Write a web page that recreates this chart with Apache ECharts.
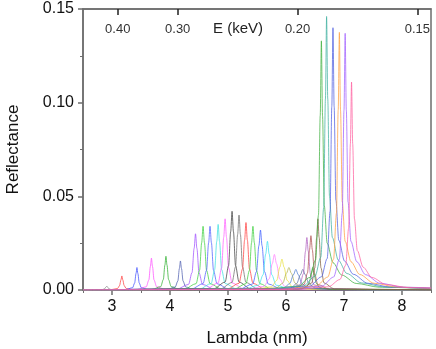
<!DOCTYPE html>
<html>
<head>
<meta charset="utf-8">
<script src="https://cdn.jsdelivr.net/npm/echarts@6/dist/echarts.min.js"></script>
<style>
html,body{margin:0;padding:0;background:#fff;}
#chart{width:436px;height:349px;}
</style>
</head>
<body>
<div id="chart"></div>
<script>
// axis ranges and tick labels
var xMin = 2.5, xMax = 8.5;
var xLabels = [3, 4, 5, 6, 7, 8];
var xMinorTicks = [2.5, 3.5, 4.5, 5.5, 6.5, 7.5, 8.5];
var yTicks = [0, 0.05, 0.10, 0.15];
var eTicks = [0.40, 0.30, 0.20, 0.15];   // keV, top axis

// short wavelength orders (narrow, small)
var lowOrder = [
	[[2.5,0],[2.71,0],[2.835,0.0002],[2.87,0.0006],[2.895,0.0015],[2.91,0.002],[2.925,0.0015],[2.95,0.0006],[2.985,0.0002],[3.11,0],[8.5,0]],
	[[2.5,0],[2.97,0.0001],[3.095,0.0008],[3.13,0.0023],[3.155,0.0055],[3.17,0.0075],[3.185,0.0055],[3.21,0.0023],[3.245,0.0008],[3.37,0.0001],[8.5,0]],
	[[2.5,0],[3.23,0.0002],[3.355,0.0012],[3.39,0.0037],[3.415,0.0089],[3.43,0.012],[3.445,0.0089],[3.47,0.0037],[3.505,0.0012],[3.63,0.0002],[8.5,0]],
	[[2.5,0],[3.44,0.0003],[3.59,0.0017],[3.635,0.0053],[3.662,0.0126],[3.68,0.017],[3.698,0.0126],[3.725,0.0053],[3.77,0.0017],[3.92,0.0003],[8.5,0]],
	[[2.5,0],[3.69,0.0003],[3.84,0.0018],[3.885,0.0056],[3.912,0.0133],[3.93,0.018],[3.948,0.0133],[3.975,0.0056],[4.02,0.0018],[4.17,0.0003],[8.5,0]],
	[[2.5,0],[3.94,0.0002],[4.09,0.0016],[4.135,0.0048],[4.162,0.0115],[4.18,0.0155],[4.198,0.0115],[4.225,0.0048],[4.27,0.0016],[4.42,0.0002],[8.5,0]]
];
var lowColors = ['#808080','#ff4040','#4050ff','#ff50ff','#30b030','#5060b0'];

// middle band around 4.4 - 5.6 nm
var midOrder = [
	[[2.5,0],[4.12,0.0005],[4.32,0.003],[4.38,0.0093],[4.416,0.0222],[4.44,0.030],[4.464,0.0222],[4.50,0.0093],[4.56,0.003],[4.76,0.0005],[8.5,0]],
	[[2.5,0],[4.25,0.0005],[4.45,0.0034],[4.51,0.0105],[4.546,0.0252],[4.57,0.034],[4.594,0.0252],[4.63,0.0105],[4.69,0.0034],[4.89,0.0005],[8.5,0]],
	[[2.5,0],[4.37,0.0005],[4.57,0.0034],[4.63,0.0105],[4.666,0.0252],[4.69,0.034],[4.714,0.0252],[4.75,0.0105],[4.81,0.0034],[5.01,0.0005],[8.5,0]],
	[[2.5,0],[4.51,0.0005],[4.71,0.0035],[4.77,0.0109],[4.806,0.0259],[4.83,0.035],[4.854,0.0259],[4.89,0.0109],[4.95,0.0035],[5.15,0.0005],[8.5,0]],
	[[2.5,0],[4.63,0.0006],[4.83,0.0038],[4.89,0.0118],[4.926,0.0281],[4.95,0.038],[4.974,0.0281],[5.01,0.0118],[5.07,0.0038],[5.27,0.0006],[8.5,0]],
	[[2.5,0],[4.75,0.0006],[4.95,0.0042],[5.01,0.013],[5.046,0.0311],[5.07,0.042],[5.094,0.0311],[5.13,0.013],[5.19,0.0042],[5.39,0.0006],[8.5,0]],
	[[2.5,0],[4.87,0.0006],[5.07,0.004],[5.13,0.0124],[5.166,0.0296],[5.19,0.040],[5.214,0.0296],[5.25,0.0124],[5.31,0.004],[5.51,0.0006],[8.5,0]],
	[[2.5,0],[4.99,0.0005],[5.19,0.0036],[5.25,0.0112],[5.286,0.0266],[5.31,0.036],[5.334,0.0266],[5.37,0.0112],[5.43,0.0036],[5.63,0.0005],[8.5,0]],
	[[2.5,0],[5.11,0.0005],[5.31,0.0034],[5.37,0.0105],[5.406,0.0252],[5.43,0.034],[5.454,0.0252],[5.49,0.0105],[5.55,0.0034],[5.75,0.0005],[8.5,0]],
	[[2.5,0],[5.20,0.0005],[5.425,0.0032],[5.492,0.0099],[5.533,0.0237],[5.56,0.032],[5.587,0.0237],[5.628,0.0099],[5.695,0.0032],[5.92,0.0005],[8.5,0]]
];
var midColors = ['#a050ff','#40d040','#5060ff','#40e0e0','#ff60ff','#404040','#707070','#ff4040','#40d040','#4060ff'];

// broad low peaks 5.7 - 6.3 nm
var broadOrder = [
	[[2.5,0],[5.28,0.0004],[5.53,0.0026],[5.605,0.0081],[5.65,0.0192],[5.68,0.026],[5.71,0.0192],[5.755,0.0081],[5.83,0.0026],[6.08,0.0004],[8.5,0]],
	[[2.5,0],[5.32,0.0003],[5.62,0.0019],[5.71,0.0059],[5.764,0.0141],[5.80,0.019],[5.836,0.0141],[5.89,0.0059],[5.98,0.0019],[6.28,0.0003],[8.5,0]],
	[[2.5,0],[5.45,0.0003],[5.75,0.0017],[5.84,0.0051],[5.894,0.0122],[5.93,0.0165],[5.966,0.0122],[6.02,0.0051],[6.11,0.0017],[6.41,0.0003],[8.5,0]],
	[[2.5,0],[5.49,0.0002],[5.84,0.0012],[5.945,0.0037],[6.008,0.0089],[6.05,0.012],[6.092,0.0089],[6.155,0.0037],[6.26,0.0012],[6.61,0.0002],[8.5,0]],
	[[2.5,0],[5.61,0.0002],[5.96,0.0011],[6.065,0.0034],[6.128,0.0081],[6.17,0.011],[6.212,0.0081],[6.275,0.0034],[6.38,0.0011],[6.73,0.0002],[8.5,0]],
	[[2.5,0],[5.73,0.0002],[6.08,0.0011],[6.185,0.0034],[6.248,0.0081],[6.29,0.011],[6.332,0.0081],[6.395,0.0034],[6.50,0.0011],[6.85,0.0002],[8.5,0]]
];
var broadColors = ['#40e0f0','#ff80ff','#e8e040','#b0b050','#5080d0','#6070a0'];

// small cluster just before the edge
var clusterOrder = [
	[[2.5,0],[6.04,0.0004],[6.24,0.0028],[6.30,0.0087],[6.336,0.0207],[6.36,0.028],[6.384,0.0207],[6.42,0.0087],[6.48,0.0028],[6.68,0.0004],[8.5,0]],
	[[2.5,0],[6.11,0.0004],[6.31,0.0029],[6.37,0.009],[6.406,0.0215],[6.43,0.029],[6.454,0.0215],[6.49,0.009],[6.55,0.0029],[6.75,0.0004],[8.5,0]],
	[[2.5,0],[6.14,0.0002],[6.34,0.0012],[6.40,0.0037],[6.436,0.0089],[6.46,0.012],[6.484,0.0089],[6.52,0.0037],[6.58,0.0012],[6.78,0.0002],[8.5,0]],
	[[2.5,0],[6.27,0.0006],[6.445,0.0038],[6.497,0.0118],[6.529,0.0281],[6.55,0.038],[6.571,0.0281],[6.603,0.0118],[6.655,0.0038],[6.83,0.0006],[8.5,0]]
];
var clusterColors = ['#b060c0','#b05050','#40a040','#806040'];

// tall peaks 6.6 - 7.1 nm with long tails
var tallOrder = [
	[[2.5,0],[5.61,0.0004],[6.21,0.002],[6.41,0.0067],[6.51,0.016],[6.56,0.040],[6.59,0.093],[6.61,0.133],[6.63,0.093],[6.66,0.045],[6.71,0.025],[6.81,0.0146],[6.96,0.008],[7.21,0.0035],[7.61,0.0015],[8.5,0.0007]],
	[[2.5,0],[5.70,0.0004],[6.30,0.0022],[6.50,0.0073],[6.60,0.0175],[6.65,0.044],[6.68,0.102],[6.70,0.146],[6.72,0.102],[6.75,0.050],[6.80,0.028],[6.90,0.016],[7.05,0.0088],[7.30,0.0038],[7.70,0.0016],[8.5,0.0008]],
	[[2.5,0],[5.81,0.0004],[6.41,0.0021],[6.61,0.007],[6.71,0.0168],[6.76,0.042],[6.79,0.098],[6.81,0.140],[6.83,0.098],[6.86,0.048],[6.91,0.0266],[7.01,0.0154],[7.16,0.0084],[7.41,0.0036],[7.81,0.0015],[8.5,0.0009]],
	[[2.5,0],[5.92,0.0004],[6.52,0.0021],[6.72,0.0069],[6.82,0.0165],[6.87,0.041],[6.90,0.096],[6.92,0.1375],[6.94,0.096],[6.97,0.047],[7.02,0.026],[7.12,0.0151],[7.27,0.0083],[7.52,0.0036],[7.92,0.0015],[8.5,0.001]],
	[[2.5,0],[6.02,0.0004],[6.62,0.0021],[6.82,0.0069],[6.92,0.0164],[6.97,0.041],[7.00,0.096],[7.02,0.137],[7.04,0.096],[7.07,0.047],[7.12,0.026],[7.22,0.0151],[7.37,0.0082],[7.62,0.0036],[8.02,0.0015],[8.5,0.0011]],
	[[2.5,0],[6.13,0.0003],[6.73,0.0017],[6.93,0.0056],[7.03,0.0133],[7.08,0.033],[7.11,0.078],[7.13,0.111],[7.15,0.078],[7.18,0.038],[7.23,0.021],[7.33,0.0122],[7.48,0.0067],[7.73,0.0029],[8.13,0.0012],[8.5,0.001]]
];
var tallColors = ['#40b040','#40b0a0','#5060e0','#ffa040','#a060ff','#ff60a0'];

var hc = 1.2398; // keV*nm

function buildSeries(curves, colors){
	var out = [];
	for(var i = 0; i < curves.length; i++){
		out.push({
			type: 'line',
			data: curves[i],
			showSymbol: false,
			smooth: 0.3,
			smoothMonotone: 'x',
			silent: true,
			lineStyle: {color: colors[i], width: 1, opacity: 0.75}
		});
	}
	return out;
}

var series = [].concat(
	buildSeries(lowOrder, lowColors),
	buildSeries(midOrder, midColors),
	buildSeries(broadOrder, broadColors),
	buildSeries(clusterOrder, clusterColors),
	buildSeries(tallOrder, tallColors)
);

var eTickPos = eTicks.map(function(e){ return hc / e; });
var axisCol = '#6e6e6e';
var font = 'Liberation Sans, Arial, sans-serif';

var chart = echarts.init(document.getElementById('chart'));
chart.setOption({
	animation: false,
	grid: {left: 83, right: 5, top: 9, bottom: 59, show: true, borderColor: axisCol, borderWidth: 1.5,
		containLabel: false, outerBoundsMode: 'none'},
	xAxis: [
		{
			type: 'value', position: 'bottom', min: xMin, max: xMax,
			name: 'Lambda (nm)', nameLocation: 'middle', nameGap: 40,
			nameTextStyle: {fontSize: 17, color: '#111', fontFamily: font},
			axisLine: {show: true, onZero: false, lineStyle: {color: axisCol, width: 1.5}},
			axisTick: {show: true, customValues: xLabels, length: 5, lineStyle: {color: axisCol, width: 1.5}},
			axisLabel: {customValues: xLabels, fontSize: 16, color: '#111', margin: 9, fontFamily: font},
			splitLine: {show: false}
		},
		{
			type: 'value', position: 'bottom', min: xMin, max: xMax,
			axisLine: {show: false},
			axisTick: {show: true, customValues: xMinorTicks, length: 3, lineStyle: {color: axisCol, width: 1}},
			axisLabel: {show: false},
			splitLine: {show: false}
		},
		{
			type: 'value', position: 'top', min: xMin, max: xMax,
			axisLine: {show: true, lineStyle: {color: axisCol, width: 1.5}},
			axisTick: {show: true, inside: true, customValues: eTickPos, length: 6, lineStyle: {color: '#222', width: 1.5}},
			axisLabel: {
				inside: true, customValues: eTickPos, fontSize: 13, color: '#333', margin: 14, fontFamily: font,
				formatter: function(v){ return (hc / v).toFixed(2); }
			},
			splitLine: {show: false}
		}
	],
	yAxis: {
		type: 'value', min: 0, max: 0.15, interval: 0.05,
		name: 'Reflectance', nameLocation: 'middle', nameGap: 61,
		nameTextStyle: {fontSize: 17, color: '#111', fontFamily: font},
		axisLine: {show: true, lineStyle: {color: axisCol, width: 1.5}},
		axisTick: {show: true, length: 5, lineStyle: {color: axisCol, width: 1.5}},
		minorTick: {show: true, splitNumber: 2, length: 3, lineStyle: {color: axisCol}},
		axisLabel: {fontSize: 16, color: '#111', margin: 9, fontFamily: font,
			formatter: function(v){ return v.toFixed(2); }},
		splitLine: {show: false}
	},
	graphic: [{
		type: 'text', left: 213, top: 21,
		style: {text: 'E (keV)', fontSize: 15, fill: '#222', fontFamily: font}
	}],
	series: series
});
</script>
</body>
</html>
